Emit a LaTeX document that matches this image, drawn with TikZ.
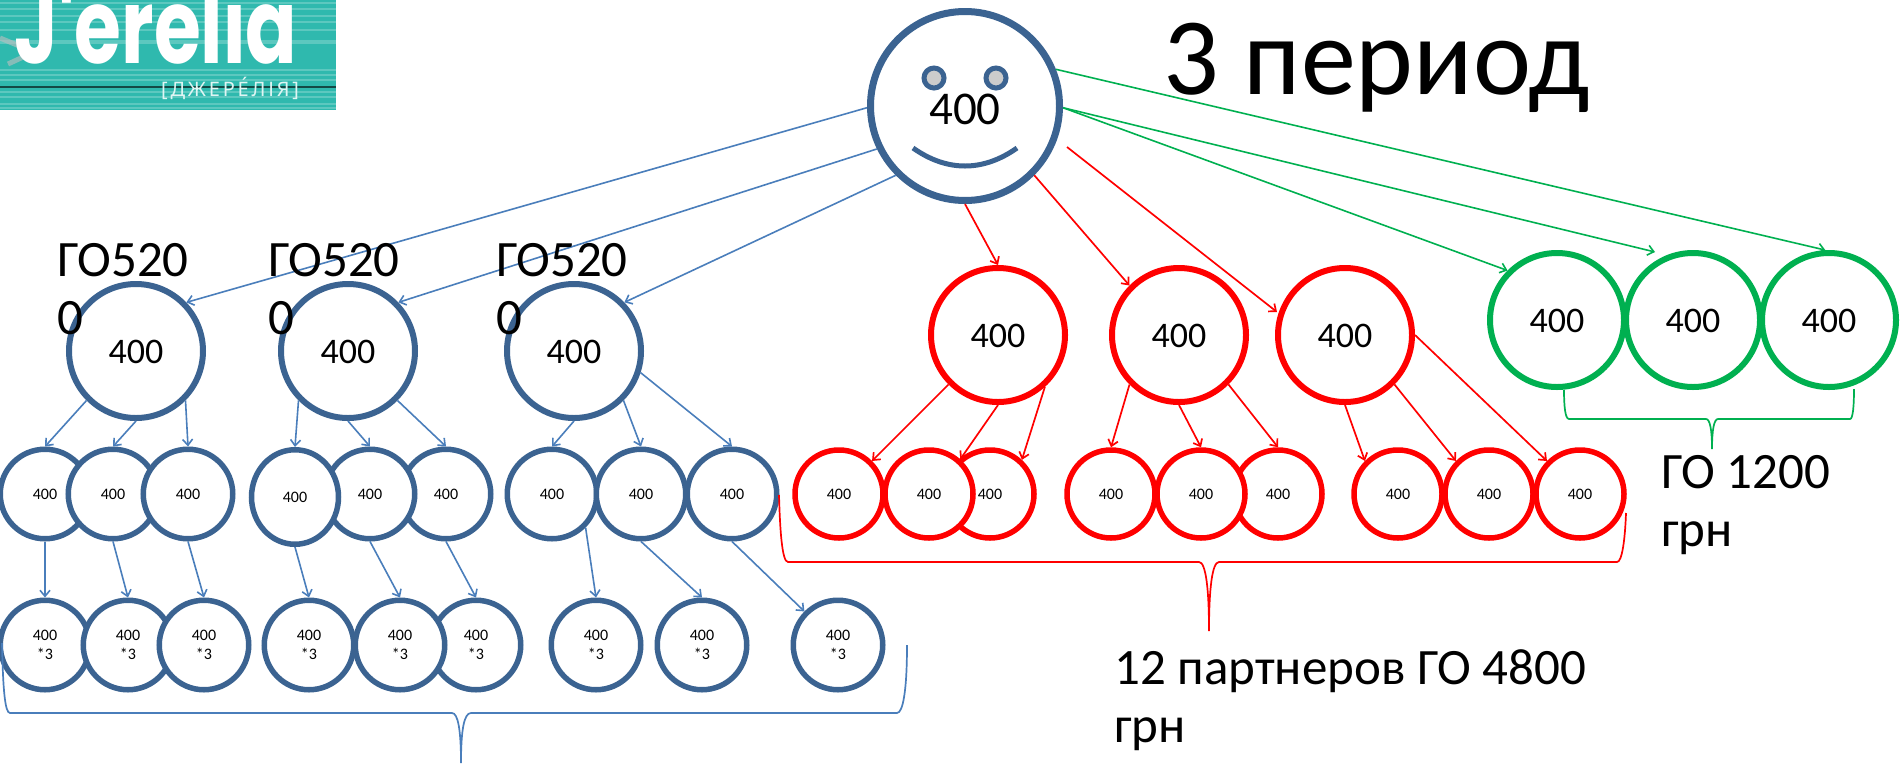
\documentclass[tikz,border=0pt]{standalone}
\usepackage{fontspec}
\setmainfont{Carlito}
\newfontfamily\logofont{Poppins}
\newfontfamily\logosmall[LetterSpace=14]{Noto Sans}
\usetikzlibrary{arrows.meta}
\usetikzlibrary{shapes.geometric}
\definecolor{ringblue}{HTML}{3B6391}
\definecolor{lineblue}{HTML}{4A7EBB}
\definecolor{ringgreen}{HTML}{00B050}
\definecolor{logoteal}{HTML}{2FB9AE}
\begin{document}
\begin{tikzpicture}[x=1pt,y=-1pt,>={Straight Barb[length=6pt,width=10pt]}]
	\tikzstyle{every node}=[inner sep=0pt]
	\tikzstyle{ring}=[circle,draw,fill=white,align=center]
	\tikzstyle{big}=[ring,minimum size=134pt,line width=6pt,text height=25pt,text depth=0pt,font=\fontsize{36}{43}\selectfont]
	\tikzstyle{mid}=[ring,minimum size=89.5pt,line width=5.5pt,font=\fontsize{16}{19}\selectfont]
	\tikzstyle{tag}=[align=left,anchor=base west,font=\fontsize{51}{58}\selectfont]
	\tikzstyle{eye}=[circle,draw=ringblue,fill=black!20,line width=5pt,minimum size=20pt]
	\tikzstyle{bluelink}=[every edge/.style={draw=lineblue,->,line width=1.6pt}]
	\tikzstyle{redlink}=[every edge/.style={draw=red,->,line width=1.7pt}]
	\tikzstyle{greenlink}=[every edge/.style={draw=ringgreen,->,line width=1.6pt}]
	\tikzstyle{bracket}=[line width=1.7pt]

	\useasboundingbox (0,0) rectangle (1901,764);

	% logo
	\begin{scope}
		\clip (0,0) rectangle (336,110);
		\fill[logoteal] (0,0) rectangle (336,110);
		\foreach \y in {3,9,16,22,30,41,43,70,75,80,92,97,104,108}
			\draw[white,opacity=.22,line width=1.5pt] (0,\y) -- (336,\y);
		\draw[black!60!logoteal,line width=1.2pt] (0,87) -- (336,87);
		\draw[black!25,opacity=.6,line width=5pt] (0,38) -- (34,52) -- (8,64);
		\node[white,anchor=base west,font=\logofont\bfseries\fontsize{104}{104}\selectfont,xscale=.73] (logoname) at (14,63) {J'erelia};
		\node[white!85!logoteal,anchor=base west,font=\logosmall\fontsize{20}{20}\selectfont] (logosub) at (161,96) {[ДЖЕРЕ́ЛІЯ]};
	\end{scope}

	\node[tag,font=\fontsize{110}{110}\selectfont] (title) at (1163,94) {3 период};

	% top circle with the face
	\node[ring,draw=ringblue,minimum size=189pt,line width=7pt,text height=36pt,text depth=0pt,font=\fontsize{47}{56}\selectfont] (root) at (965,106) {400};
	\node[eye] (eyeleft)  at (934,78) {};
	\node[eye] (eyeright) at (996,78) {};
	\coordinate (smileleft)  at (913,148);
	\coordinate (smileright) at (1017,148);
	\draw[draw=ringblue,line width=5pt] (smileleft) .. controls (947,172) and (983,172) .. (smileright);

	% second row
	\node[big,draw=ringblue]  (blue1)  at (136,351)  {400};
	\node[big,draw=ringblue]  (blue2)  at (348,351)  {400};
	\node[big,draw=ringblue]  (blue3)  at (574,351)  {400};
	\node[big,draw=red]       (red1)   at (998,335)  {400};
	\node[big,draw=red]       (red2)   at (1179,335) {400};
	\node[big,draw=red]       (red3)   at (1345,335) {400};
	\node[big,draw=ringgreen] (green1) at (1557,320) {400};
	\node[big,draw=ringgreen] (green2) at (1693,320) {400};
	\node[big,draw=ringgreen] (green3) at (1829,320) {400};

	% third row
	\node[mid,draw=ringblue] (blue11) at (45,494)  {400};
	\node[mid,draw=ringblue] (blue12) at (113,494) {400};
	\node[mid,draw=ringblue] (blue13) at (188,494) {400};
	\node[mid,draw=ringblue] (blue23) at (446,494) {400};
	\node[mid,draw=ringblue] (blue22) at (370,494) {400};
	\node[ellipse,draw=ringblue,fill=white,minimum width=87pt,minimum height=94.5pt,line width=5.5pt,font=\fontsize{16}{19}\selectfont] (blue21) at (295,497) {400};
	\node[mid,draw=ringblue] (blue31) at (552,494) {400};
	\node[mid,draw=ringblue] (blue32) at (641,494) {400};
	\node[mid,draw=ringblue] (blue33) at (732,494) {400};

	\node[mid,draw=red,minimum size=88pt] (red11) at (839,494)  {400};
	\node[mid,draw=red,minimum size=88pt] (red13) at (990,494)  {400};
	\node[mid,draw=red,minimum size=88pt] (red12) at (929,494)  {400};
	\node[mid,draw=red,minimum size=88pt] (red23) at (1278,494) {400};
	\node[mid,draw=red,minimum size=88pt] (red21) at (1111,494) {400};
	\node[mid,draw=red,minimum size=88pt] (red22) at (1201,494) {400};
	\node[mid,draw=red,minimum size=88pt] (red31) at (1398,494) {400};
	\node[mid,draw=red,minimum size=88pt] (red32) at (1489,494) {400};
	\node[mid,draw=red,minimum size=88pt] (red33) at (1580,494) {400};

	% fourth row
	\node[mid,draw=ringblue] (blue111) at (45,645)  {400\\*3};
	\node[mid,draw=ringblue] (blue121) at (128,645) {400\\*3};
	\node[mid,draw=ringblue] (blue131) at (204,645) {400\\*3};
	\node[mid,draw=ringblue] (blue231) at (476,645) {400\\*3};
	\node[mid,draw=ringblue] (blue211) at (309,645) {400\\*3};
	\node[mid,draw=ringblue] (blue221) at (400,645) {400\\*3};
	\node[mid,draw=ringblue] (blue311) at (596,645) {400\\*3};
	\node[mid,draw=ringblue] (blue321) at (702,645) {400\\*3};
	\node[mid,draw=ringblue] (blue331) at (838,645) {400\\*3};

	% free ends that stop short of a circle
	\coordinate (redgapstart) at (1067,147);
	\coordinate (redgapend)   at (1277,312);
	\coordinate (greengap)    at (1655,252);

	\path[bluelink] (root.181) edge (blue1.44)
		(root.206) edge (blue2.44)
		(root.225) edge (blue3.44)
		(blue1.225) edge (blue11.90)
		(blue1.270) edge (blue12.90)
		(blue1.-45) edge (blue13.90)
		(blue2.225) edge (blue21.90)
		(blue2.270) edge (blue22.90)
		(blue2.-45) edge (blue23.90)
		(blue3.270) edge (blue31.90)
		(blue3.-45) edge (blue32.90)
		(blue3.-18) edge (blue33.90)
		(blue11.270) edge (blue111.90)
		(blue12.270) edge (blue121.90)
		(blue13.270) edge (blue131.90)
		(blue21.270) edge (blue211.90)
		(blue22.270) edge (blue221.90)
		(blue23.270) edge (blue231.90)
		(blue31.-45) edge (blue311.90)
		(blue32.270) edge (blue321.90)
		(blue33.270) edge (blue331.135);

	\path[redlink] (root.270) edge (red1.90)
		(root.-45) edge (red2.135)
		(redgapstart) edge (redgapend)
		(red1.225) edge (red11.45)
		(red1.270) edge (red12.48)
		(red1.-48) edge (red13.47)
		(red2.225) edge (red21.90)
		(red2.270) edge (red22.90)
		(red2.-45) edge (red23.90)
		(red3.270) edge (red31.135)
		(red3.-45) edge (red32.135)
		(red3.0) edge (red33.135);

	\path[greenlink] (root.22) edge (green3.93)
		(root.-1) edge (greengap)
		(root.-1) edge (green1.135);

	% braces
	\draw[bracket,draw=lineblue] (2,643) .. controls (3,690) and (5,713) .. (10,713) -- (452,713) .. controls (458,713) and (461,730) .. (461,763) .. controls (461,730) and (464,713) .. (471,713) -- (897,713) .. controls (903,713) and (907,690) .. (907,645);
	\draw[bracket,draw=red] (779,495) .. controls (780,530) and (782,562) .. (788,562) -- (1199,562) .. controls (1206,562) and (1209,590) .. (1209,631) .. controls (1209,590) and (1212,562) .. (1219,562) -- (1617,562) .. controls (1622,562) and (1625,540) .. (1626,513);
	\draw[bracket,draw=ringgreen] (1564,390) .. controls (1564,405) and (1565,419) .. (1569,419) -- (1706,419) .. controls (1710,419) and (1712,430) .. (1712,449) .. controls (1712,430) and (1714,419) .. (1718,419) -- (1850,419) .. controls (1853,419) and (1854,405) .. (1854,389);

	% labels
	\node[tag] (gofirst)  at (57,334)  {ГО520\\0};
	\node[tag] (gosecond) at (268,334) {ГО520\\0};
	\node[tag] (gothird)  at (496,334) {ГО520\\0};
	\node[tag] (gored)    at (1114,742) {12 партнеров ГО 4800\\грн};
	\node[tag] (gogreen)  at (1661,546) {ГО 1200\\грн};
\end{tikzpicture}
\end{document}
